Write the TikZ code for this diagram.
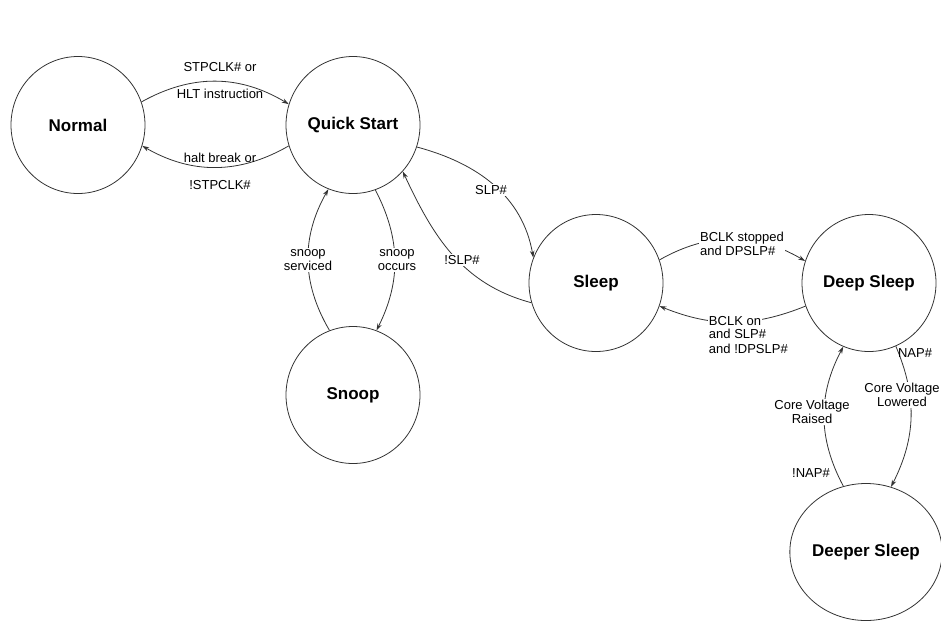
\documentclass[tikz,border=0pt]{standalone}
\usepackage{fontspec}
\setmainfont{Liberation Sans}
\usetikzlibrary{arrows.meta,shapes.geometric}
\begin{document}
\begin{tikzpicture}[x=1pt,y=1pt,
  state/.style={draw=black!80, line width=0.8pt, ellipse, minimum width=134pt, minimum height=137pt, inner sep=0pt, font=\fontsize{17}{19}\selectfont\bfseries},
  lbl/.style={font=\fontsize{13}{14.5}\selectfont, align=center, inner sep=1pt},
  lblw/.style={lbl, fill=white},
  conn/.style={draw=black!80, line width=0.8pt, -{Stealth[length=7pt,width=4.5pt]}}]
\useasboundingbox (0,0) rectangle (941,-622);
% states
\node[state] (normal) at (78,-125) {Normal};
\node[state] (qs) at (353,-125) {Quick Start};
\node[state] (snoop) at (353,-395) {Snoop};
\node[state] (sleep) at (596,-283) {Sleep};
\node[state] (deep) at (869,-283) {Deep Sleep};
\node[state] (deeper) at (866,-552) {Deeper Sleep};
% transitions
\draw[conn] (normal.20) to[bend left=30] (qs.162);
\draw[conn] (qs.198) to[bend left=30] (normal.-18);
\draw[conn] (snoop.110) to[bend left=30] (qs.-111);
\draw[conn] (qs.-71) to[bend left=27] (snoop.70);
\draw[conn] (qs.-19) to[out=-15,in=100] (sleep.158);
\draw[conn] (sleep.197) to[out=165,in=-65] (qs.-43);
\draw[conn] (sleep.20) to[bend left=30] (deep.161);
\draw[conn] (deep.200) to[bend left=22] (sleep.-20);
\draw[conn] (deep.-67) to[bend left=25] (deeper.69);
\draw[conn] (deeper.109) to[bend left=28] (deep.-112);
% labels
\node[lbl] (l1a) at (220,-67) {STPCLK\# or};
\node[lbl] (l1b) at (220,-94) {HLT instruction};
\node[lbl] (l2a) at (220,-158) {halt break or};
\node[lbl] (l2b) at (220,-185) {!STPCLK\#};
\node[lblw] (l3) at (308,-260) {snoop\\serviced};
\node[lblw] (l4) at (397,-260) {snoop\\occurs};
\node[lblw] (l5) at (491,-190) {SLP\#};
\node[lblw] (l6) at (462,-260) {!SLP\#};
\node[lblw, align=left] (l7) at (742,-244) {BCLK stopped\\and DPSLP\#};
\node[lblw] (l8a) at (735,-321) {BCLK on};
\node[lbl, anchor=north west, align=left, yshift=-1.5pt] (l8b) at (l8a.south west) {and SLP\#\\and !DPSLP\#};
\node[lbl] (l9a) at (915,-353) {NAP\#};
\node[lblw] (l9b) at (902,-395) {Core Voltage\\Lowered};
\node[lblw] (l10a) at (812,-412) {Core Voltage\\Raised};
\node[lbl] (l10b) at (811,-473) {!NAP\#};
\end{tikzpicture}
\end{document}
